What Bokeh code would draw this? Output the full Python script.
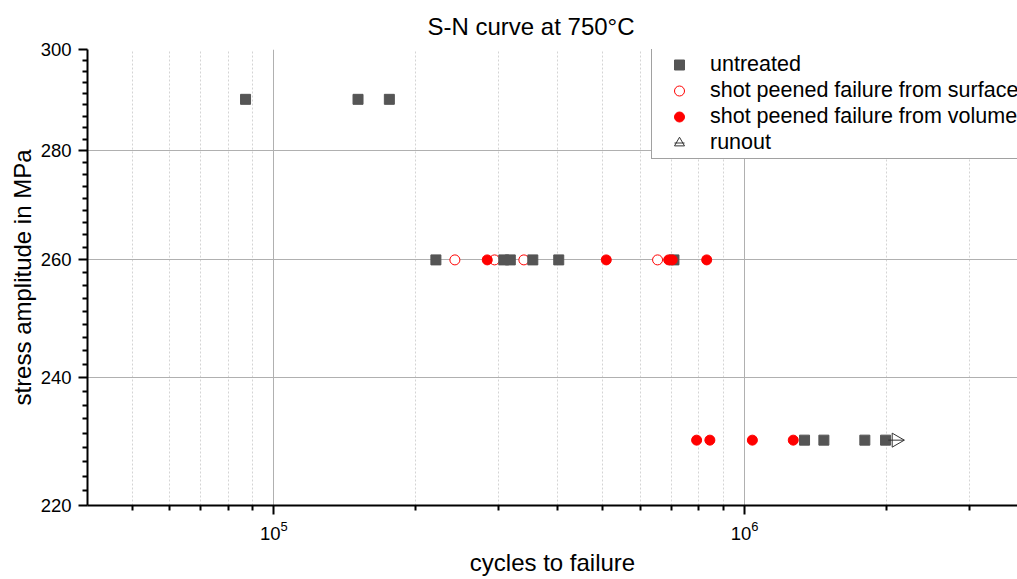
import math
from bokeh.plotting import figure
from bokeh.models import (Range1d, FixedTicker, LogTickFormatter, BasicTickFormatter,
                          Legend, LegendItem)
from bokeh.embed import file_html
from bokeh.resources import INLINE

# ---- data ----
untreated_x = [87100, 151000, 176000, 221000, 308000, 318000, 355000, 403000, 708000,
               1341000, 1474000, 1801000, 1993000]
untreated_y = [290, 290, 290, 260, 260, 260, 260, 260, 260, 230, 230, 230, 230]

surface_x = [242500, 294400, 339800, 653500]
surface_y = [260, 260, 260, 260]

volume_x = [284100, 508500, 690000, 702000, 831000, 791000, 844000, 1039000, 1269000]
volume_y = [260, 260, 260, 260, 260, 230, 230, 230, 230]

runout_x = [2100000]
runout_y = [230]

x_major = [1e5, 1e6]
x_minor = [4e4, 5e4, 6e4, 7e4, 8e4, 9e4, 2e5, 3e5, 4e5, 5e5, 6e5, 7e5, 8e5, 9e5, 2e6, 3e6]
y_major = [220, 240, 260, 280, 300]
y_grid = [240, 260, 280]
y_minor = [a + 20 * k / 9 for a in [220, 240, 260, 280] for k in range(1, 9)]

FONT = "Liberation Sans"

p = figure(width=1017, height=579, output_backend="svg", toolbar_location=None,
           x_axis_type="log", y_axis_type="log",
           x_range=Range1d(40210, 3.8e6), y_range=Range1d(220, 300),
           min_border_left=87, min_border_right=0, min_border_top=49, min_border_bottom=74)
p.outline_line_color = None
p.background_fill_color = "white"

# title
p.title.text = "S-N curve at 750°C"
p.title.text_font = FONT
p.title.text_font_size = "24px"
p.title.text_font_style = "normal"
p.title.text_color = "black"
p.title.align = "left"
p.title.offset = 340
p.title.standoff = 20

# axes
xa = p.xaxis[0]
xa.ticker = FixedTicker(ticks=x_major, minor_ticks=x_minor)
xa.formatter = LogTickFormatter()
ya = p.yaxis[0]
ya.ticker = FixedTicker(ticks=y_major, minor_ticks=y_minor)
ya.formatter = BasicTickFormatter()
for ax in (xa, ya):
    ax.axis_line_width = 2
    ax.axis_line_color = "black"
    ax.major_tick_line_width = 2
    ax.minor_tick_line_width = 2
    ax.major_tick_in = 0
    ax.minor_tick_in = 0
    ax.major_tick_out = 9
    ax.minor_tick_out = 5
    ax.major_label_text_font = FONT
    ax.major_label_text_font_size = "18.5px"
    ax.major_label_text_color = "black"
    ax.axis_label_text_font = FONT
    ax.axis_label_text_font_size = "24px"
    ax.axis_label_text_font_style = "normal"
    ax.axis_label_text_color = "black"
xa.axis_label = "cycles to failure"
ya.axis_label = "stress amplitude in MPa"
xa.major_label_standoff = 6
xa.axis_label_standoff = 6
ya.major_label_standoff = 7
ya.axis_label_standoff = 2

# grids
p.xgrid[0].ticker = FixedTicker(ticks=x_major, minor_ticks=x_minor)
p.xgrid[0].grid_line_color = "#b0b0b0"
p.xgrid[0].grid_line_width = 1
p.xgrid[0].minor_grid_line_color = "#d4d4d4"
p.xgrid[0].minor_grid_line_dash = "2 2"
p.ygrid[0].ticker = FixedTicker(ticks=y_grid)
p.ygrid[0].grid_line_color = "#b0b0b0"
p.ygrid[0].grid_line_width = 1

# data
r_surf = p.scatter(surface_x, surface_y, marker="circle", size=10,
                   line_color="red", fill_color="white", line_width=1)
r_unt = p.scatter(untreated_x, untreated_y, marker="square", size=10,
                  line_color="#555555", fill_color="#555555")
r_vol = p.scatter(volume_x, volume_y, marker="circle", size=10,
                  line_color="red", fill_color="red")
r_run_d = p.scatter(runout_x, runout_y, marker="dash", size=16,
                    line_color="#333333", line_width=1)
r_run_t = p.scatter(runout_x, runout_y, marker="triangle", size=14, angle=-math.pi / 2,
                    line_color="#333333", fill_color="white", fill_alpha=0.0, line_width=1)

legend = Legend(items=[
    LegendItem(label="untreated", renderers=[r_unt]),
    LegendItem(label="shot peened failure from surface", renderers=[r_surf]),
    LegendItem(label="shot peened failure from volume", renderers=[r_vol]),
    LegendItem(label="runout", renderers=[r_run_d, r_run_t]),
], location=(564, 346))
legend.label_text_font = FONT
legend.label_text_font_size = "21.5px"
legend.label_text_color = "black"
legend.padding = 3
legend.glyph_width = 48
legend.glyph_height = 25
legend.label_height = 25
legend.label_standoff = 7
legend.spacing = 1
legend.border_line_color = "#444444"
legend.border_line_width = 1
legend.background_fill_color = "white"
legend.background_fill_alpha = 1.0
legend.margin = 0
p.add_layout(legend)

open("out.html", "w").write(file_html(p, INLINE))
